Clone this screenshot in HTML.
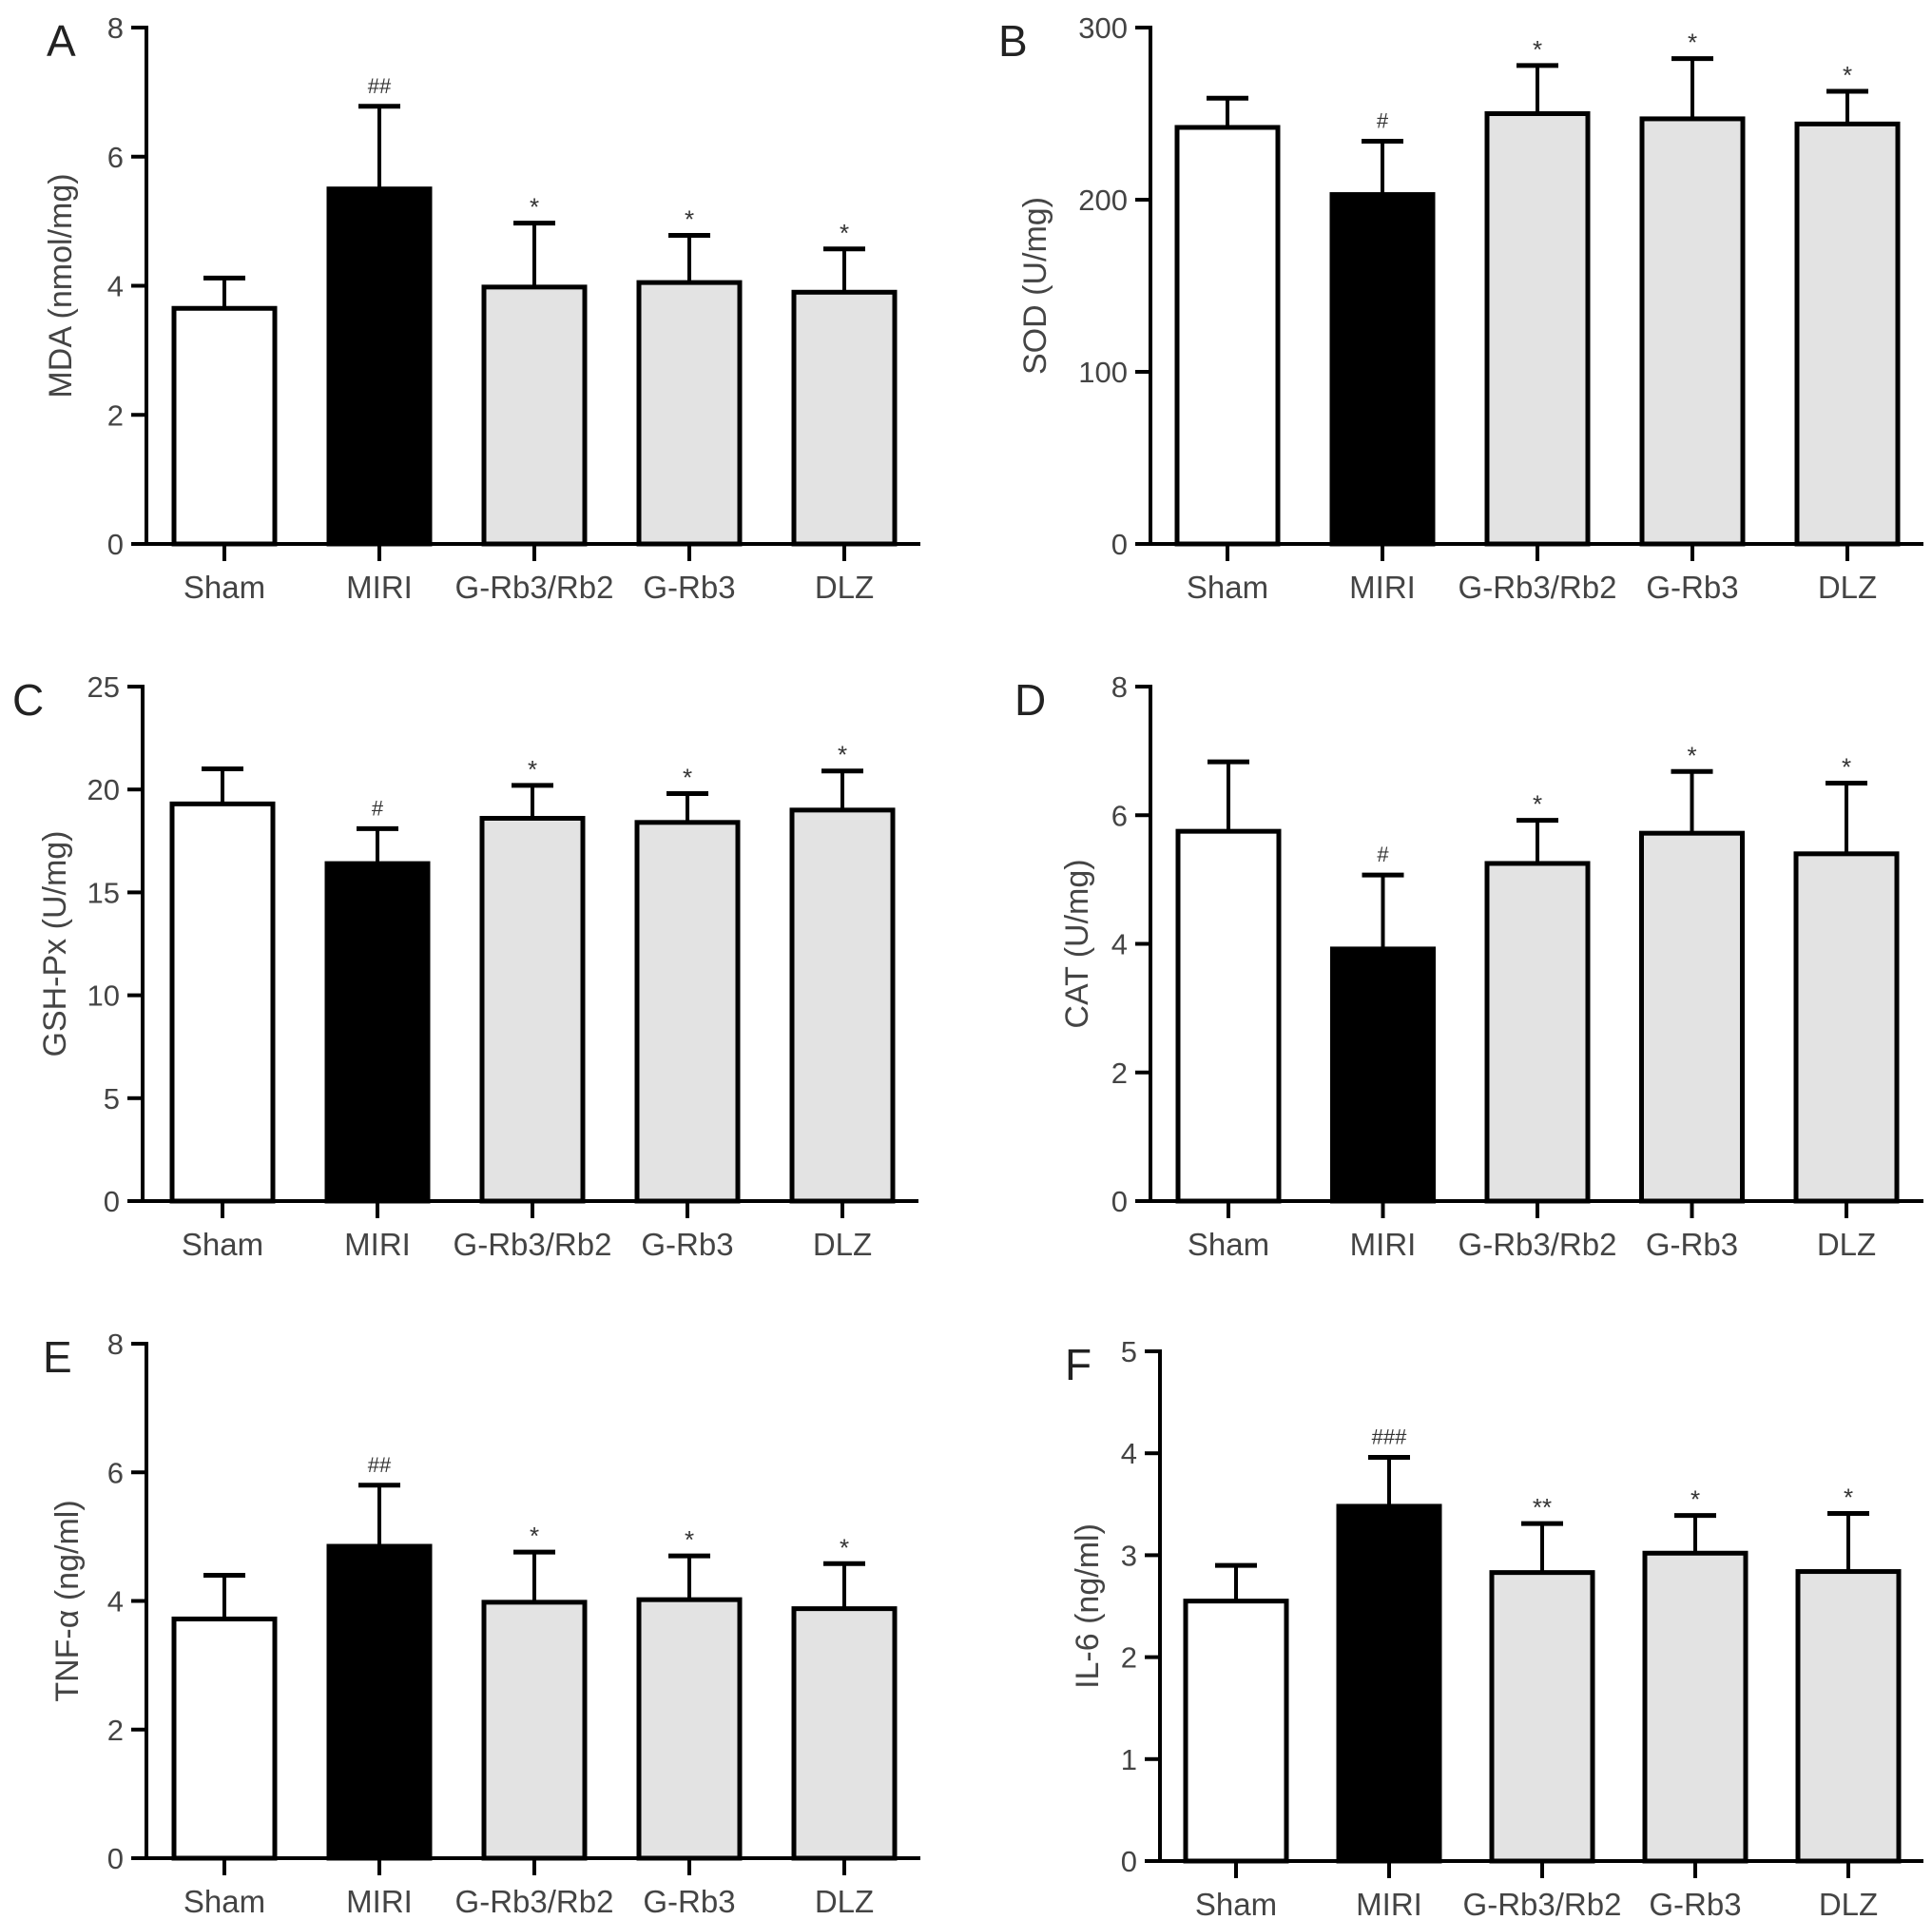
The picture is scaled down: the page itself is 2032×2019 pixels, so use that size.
<!DOCTYPE html>
<html><head><meta charset="utf-8"><style>
html,body{margin:0;padding:0;background:#fff;}
svg{display:block;}
</style></head><body>
<svg id="fig" width="2032" height="2019" viewBox="0 0 2032 2019" xmlns="http://www.w3.org/2000/svg" font-family="Liberation Sans, sans-serif"></svg>
<script>
const categories = ["Sham","MIRI","G-Rb3/Rb2","G-Rb3","DLZ"];
const mdaValues = [3.65,5.5,3.98,4.05,3.9];
const mdaErrors = [0.47,1.28,0.99,0.73,0.67];
const mdaMarks = ["","##","*","*","*"];
const sodValues = [242,203,250,247,244];
const sodErrors = [17,31,28,35,19];
const sodMarks = ["","#","*","*","*"];
const gshValues = [19.3,16.4,18.6,18.4,19.0];
const gshErrors = [1.7,1.7,1.6,1.4,1.9];
const gshMarks = ["","#","*","*","*"];
const catValues = [5.75,3.92,5.25,5.72,5.4];
const catErrors = [1.08,1.15,0.67,0.96,1.1];
const catMarks = ["","#","*","*","*"];
const tnfValues = [3.72,4.85,3.98,4.02,3.88];
const tnfErrors = [0.68,0.95,0.78,0.68,0.7];
const tnfMarks = ["","##","*","*","*"];
const il6Values = [2.55,3.48,2.83,3.02,2.84];
const il6Errors = [0.35,0.48,0.48,0.37,0.57];
const il6Marks = ["","###","**","*","*"];
const mdaTicks = [0,2,4,6,8];
const sodTicks = [0,100,200,300];
const gshTicks = [0,5,10,15,20,25];
const catTicks = [0,2,4,6,8];
const tnfTicks = [0,2,4,6,8];
const il6Ticks = [0,1,2,3,4,5];

const panels = [
 {id:"a",letter:"A",title:"MDA (nmol/mg)",vals:mdaValues,errs:mdaErrors,marks:mdaMarks,ticks:mdaTicks,ax:154,x0:138,x1:968,y0:572,y1:29,cx0:236,dx:163,titleX:75,lx:105},
 {id:"b",letter:"B",title:"SOD (U/mg)",vals:sodValues,errs:sodErrors,marks:sodMarks,ticks:sodTicks,ax:1210,x0:1194,x1:2023,y0:572,y1:29,cx0:1291,dx:163,titleX:1100,lx:160},
 {id:"c",letter:"C",title:"GSH-Px (U/mg)",vals:gshValues,errs:gshErrors,marks:gshMarks,ticks:gshTicks,ax:150,x0:134,x1:966,y0:1263,y1:722,cx0:234,dx:163,titleX:69,lx:137},
 {id:"d",letter:"D",title:"CAT (U/mg)",vals:catValues,errs:catErrors,marks:catMarks,ticks:catTicks,ax:1210,x0:1194,x1:2023,y0:1263,y1:722,cx0:1292,dx:162.5,titleX:1144,lx:143},
 {id:"e",letter:"E",title:"TNF-α (ng/ml)",vals:tnfValues,errs:tnfErrors,marks:tnfMarks,ticks:tnfTicks,ax:154,x0:138,x1:968,y0:1954,y1:1413,cx0:236,dx:163,titleX:82,lx:109},
 {id:"f",letter:"F",title:"IL-6 (ng/ml)",vals:il6Values,errs:il6Errors,marks:il6Marks,ticks:il6Ticks,ax:1220,x0:1204,x1:2023,y0:1957,y1:1421,cx0:1300,dx:161,titleX:1155,lx:100}
];
const fills = ["#ffffff","#000000","#e3e3e3","#e3e3e3","#e3e3e3"];
const NS="http://www.w3.org/2000/svg";
const svg=document.getElementById("fig");
function mk(tag,attrs,parent){const e=document.createElementNS(NS,tag);for(const k in attrs)e.setAttribute(k,attrs[k]);(parent||svg).appendChild(e);return e;}
panels.forEach(p=>{
  const g=mk("g",{});
  
  
  const tmax=p.ticks[p.ticks.length-1];
  const y=v=>p.y0-(v/tmax)*(p.y0-p.y1);
  const bw=106;
  const L=mk("text",{x:p.ax-p.lx,y:p.y1+30,"font-size":46,fill:"#222"},g);L.textContent=p.letter;
  
  
  const cy=(p.y0+p.y1)/2;
  const T=mk("text",{x:p.titleX,y:cy,"font-size":34,fill:"#444","text-anchor":"middle",transform:`rotate(-90 ${p.titleX} ${cy})`},g);T.textContent=p.title;
  
  
  p.vals.forEach((v,i)=>{
    const cx=p.cx0+i*p.dx;
    const top=y(v), et=y(v+p.errs[i]);
    const ln=mk("line",{x1:cx,x2:cx,y1:top,y2:et,stroke:"#000","stroke-width":4},g);
    
    
    const cap=mk("line",{x1:cx-22,x2:cx+22,y1:et,y2:et,stroke:"#000","stroke-width":5},g);
    
    
    const r=mk("rect",{x:cx-bw/2,y:top,width:bw,height:p.y0-top,fill:fills[i],stroke:"#000","stroke-width":5},g);
    
    
    if(p.marks[i]){
      const isHash=p.marks[i][0]==="#";
      const m=mk("text",{x:cx,y:et-(isHash?14:8),"font-size":isHash?22:26,fill:"#333","text-anchor":"middle"},g);m.textContent=p.marks[i];
      
      
    }
    const tk=mk("line",{x1:cx,x2:cx,y1:p.y0,y2:p.y0+18,stroke:"#000","stroke-width":4},g);
    
    
    const lb=mk("text",{x:cx,y:p.y0+57,"font-size":33,fill:"#444","text-anchor":"middle"},g);lb.textContent=categories[i];
    
    
  });
  const ya=mk("line",{x1:p.ax,x2:p.ax,y1:p.y1-2,y2:p.y0+2,stroke:"#000","stroke-width":4},g);
  
  
  const xa=mk("line",{x1:p.x0,x2:p.x1,y1:p.y0,y2:p.y0,stroke:"#000","stroke-width":4},g);
  
  
  p.ticks.forEach(t=>{
    const ty=y(t);
    const tl=mk("line",{x1:p.ax-16,x2:p.ax,y1:ty,y2:ty,stroke:"#000","stroke-width":4},g);
    
    
    const tt=mk("text",{x:p.ax-24,y:ty+11,"font-size":31,fill:"#444","text-anchor":"end"},g);tt.textContent=t;
    
    
  });
});
</script>
</body></html>
